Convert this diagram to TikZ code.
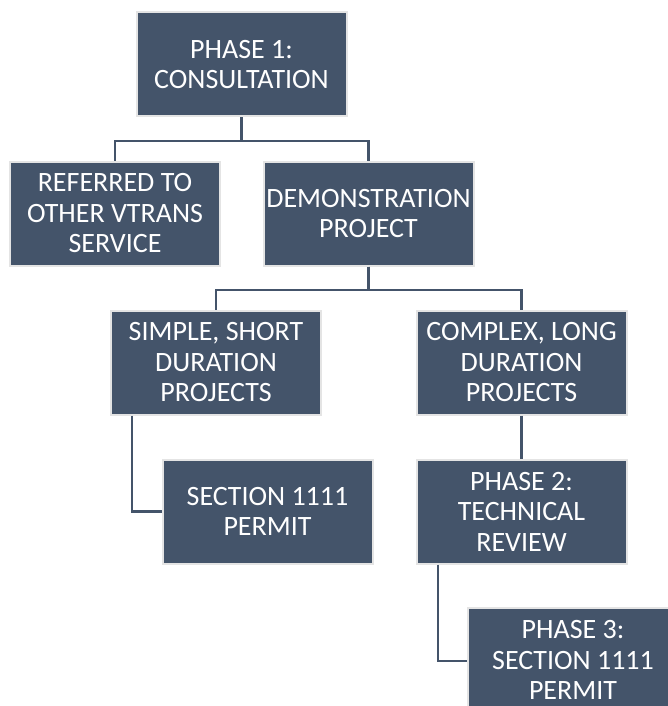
\documentclass[tikz,border=0pt]{standalone}
\usepackage{fontspec}
\setmainfont{Carlito}
\definecolor{slate}{HTML}{44546A}
\definecolor{rim}{HTML}{E4E4E4}
\tikzset{
  stagebox/.style={rectangle, fill=slate, draw=rim, line width=2pt,
    minimum width=210pt, minimum height=104pt, inner sep=0pt,
    text=white, align=center, font=\fontsize{28}{30.5}\selectfont},
  link/.style={draw=slate, line width=2.6pt}
}
\begin{document}
\begin{tikzpicture}[x=1pt, y=-1pt]
  \useasboundingbox (0,0) rectangle (668,706);
  \clip (0,0) rectangle (668,706);

  \node[stagebox] (consult) at (241.5,64.5) {PHASE 1:\\CONSULTATION};
  \node[stagebox] (refer)   at (115,213.5)  {REFERRED TO\\OTHER VTRANS\\SERVICE};
  \node[stagebox] (demo)    at (368.5,213.5) {DEMONSTRATION\\PROJECT};
  \node[stagebox] (simple)  at (216,362.5)  {SIMPLE, SHORT\\DURATION\\PROJECTS};
  \node[stagebox] (complex) at (521.5,362.5) {COMPLEX, LONG\\DURATION\\PROJECTS};
  \node[stagebox] (permit)  at (267.5,511.5) {SECTION 1111\\PERMIT};
  \node[stagebox] (review)  at (521.5,511.5) {PHASE 2:\\TECHNICAL\\REVIEW};
  \node[stagebox] (final)   at (573,660)    {PHASE 3:\\SECTION 1111\\PERMIT};

  % tree links between the stages
  \draw[link] (consult.south) -- ++(0,23.5) -| (refer.north);
  \draw[link] (consult.south) -- ++(0,23.5) -| (demo.north);
  \draw[link] (demo.south) -- ++(0,23.5) -| (simple.north);
  \draw[link] (demo.south) -- ++(0,23.5) -| (complex.north);
  \draw[link] ([xshift=-84pt]simple.south) |- (permit.west);
  \draw[link] (complex.south) -- (review.north);
  \draw[link] ([xshift=-83.5pt]review.south) |- ([yshift=-1pt]final.west);
\end{tikzpicture}
\end{document}
